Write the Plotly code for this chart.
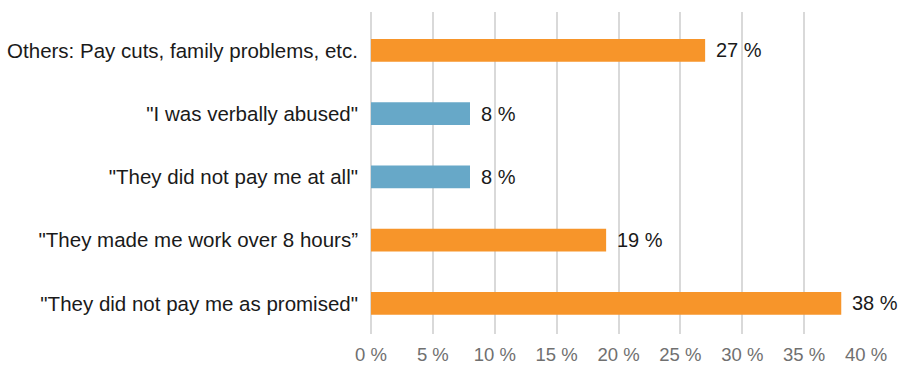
import plotly.graph_objects as go

categories = [
    '"They did not pay me as promised"',
    '"They made me work over 8 hours\u201d',
    '"They did not pay me at all"',
    '"I was verbally abused"',
    "Others: Pay cuts, family problems, etc.",
]
values = [38, 19, 8, 8, 27]
bar_colors = ["#F7952A", "#F7952A", "#67A8C8", "#67A8C8", "#F7952A"]
tick_vals = [0, 5, 10, 15, 20, 25, 30, 35, 40]
tick_text = [f"{v} %" for v in tick_vals]

FONT = "Liberation Sans, Arial, sans-serif"

fig = go.Figure(
    go.Bar(
        x=values,
        y=categories,
        orientation="h",
        marker=dict(color=bar_colors, line=dict(width=0)),
        width=0.36,
        hoverinfo="skip",
    )
)

# value labels to the right of each bar
for cat, val in zip(categories, values):
    fig.add_annotation(
        x=val, y=cat, text=f"{val} %", showarrow=False,
        xanchor="left", yanchor="middle", xshift=9,
        font=dict(family=FONT, size=20, color="#1a1a1a"),
    )

fig.update_layout(
    width=904, height=366,
    margin=dict(l=370.5, r=38, t=12, b=32),
    paper_bgcolor="white", plot_bgcolor="white",
    showlegend=False,
    font=dict(family=FONT),
    xaxis=dict(
        range=[0, 40], tickvals=tick_vals, ticktext=tick_text,
        showgrid=True, gridcolor="#D9D9D9", gridwidth=2,
        zeroline=True, zerolinecolor="#D9D9D9", zerolinewidth=2,
        showline=False, ticks="", automargin=False,
        tickfont=dict(family=FONT, size=18.5, color="#707070"),
        ticklabelstandoff=7,
    ),
    yaxis=dict(
        range=[-0.485, 4.606], showgrid=False, zeroline=False,
        showline=False, ticks="", automargin=False,
        tickfont=dict(family=FONT, size=20.5, color="#1a1a1a"),
        ticklabelstandoff=12,
    ),
)

fig.write_html("out.html")
